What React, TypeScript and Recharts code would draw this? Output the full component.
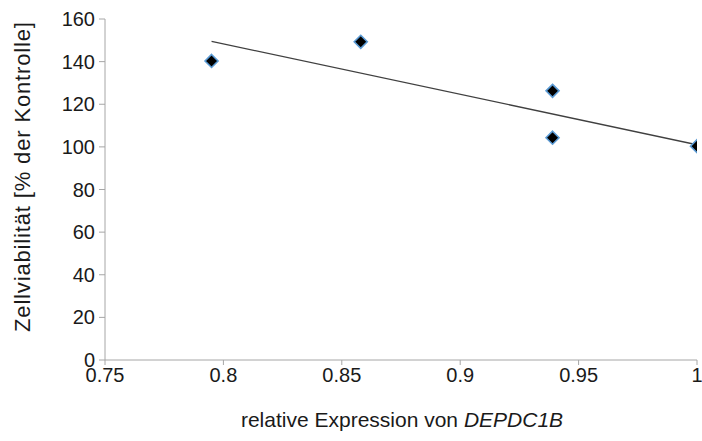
import React from 'react';
import { ScatterChart, Scatter, XAxis, YAxis, Label } from 'recharts';

const expression = [0.795, 0.858, 0.939, 0.939, 1.0];
const viability = [140.3, 149.3, 126.3, 104.3, 100.3];
const trendX = [0.795, 1.0];
const trendY = [149.5, 101.0];
const xTicks = [0.75, 0.8, 0.85, 0.9, 0.95, 1];
const yTicks = [0, 20, 40, 60, 80, 100, 120, 140, 160];

const points = expression.map((x, i) => ({ x, y: viability[i] }));
const trend = trendX.map((x, i) => ({ x, y: trendY[i] }));

const Diamond = (props: any) => {
  const { cx, cy } = props;
  const r = 6.5;
  return (
    <polygon
      points={`${cx},${cy - r} ${cx + r},${cy} ${cx},${cy + r} ${cx - r},${cy}`}
      fill="#000"
      stroke="#5B9BD5"
      strokeWidth={1.6}
    />
  );
};

const font = 'Liberation Sans, Arial, sans-serif';

export default function App() {
  return (
    <div style={{ position: 'absolute', left: 0, top: 0, width: 702, height: 441, background: '#fff' }}>
      <ScatterChart width={702} height={441} margin={{ top: 19, right: 5, left: 0, bottom: 0 }}>
        <XAxis
          type="number"
          dataKey="x"
          domain={[0.75, 1]}
          ticks={xTicks}
          allowDataOverflow
          height={81}
          stroke="#a6a6a6"
          tickSize={5}
          tick={{ fill: '#1a1a1a', fontSize: 20, fontFamily: font }}
          tickMargin={3}
        >
          <Label
            content={() => (
              <text x={402} y={427} textAnchor="middle" fontSize={21} fontFamily={font} fill="#1a1a1a">
                relative Expression von <tspan fontStyle="italic">DEPDC1B</tspan>
              </text>
            )}
          />
        </XAxis>
        <YAxis
          type="number"
          dataKey="y"
          domain={[0, 160]}
          ticks={yTicks}
          width={105}
          stroke="#a6a6a6"
          tickSize={6}
          tick={{ fill: '#1a1a1a', fontSize: 20, fontFamily: font }}
          tickMargin={4}
        >
          <Label
            content={() => (
              <text
                x={22}
                y={177}
                textAnchor="middle"
                fontSize={22}
                fontFamily={font}
                fill="#1a1a1a"
                textLength={310}
                lengthAdjust="spacing"
                transform="rotate(-90 22 177)"
                dominantBaseline="central"
              >
                Zellviabilität [% der Kontrolle]
              </text>
            )}
          />
        </YAxis>
        <Scatter data={trend} line={{ stroke: '#404040', strokeWidth: 1.3 }} shape={() => <g />} isAnimationActive={false} />
        <Scatter data={points} shape={<Diamond />} isAnimationActive={false} />
      </ScatterChart>
    </div>
  );
}
